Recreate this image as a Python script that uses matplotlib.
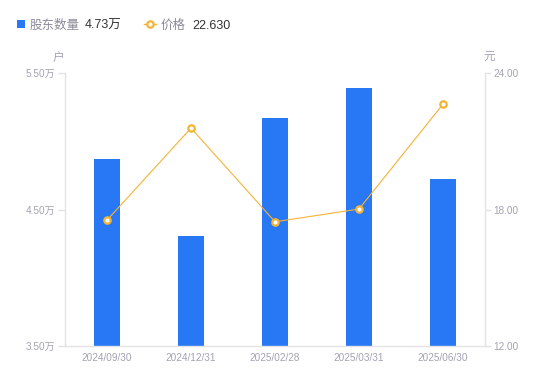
import matplotlib
matplotlib.use("Agg")
import matplotlib.pyplot as plt
from matplotlib.lines import Line2D
from matplotlib.patches import Rectangle

plt.rcParams['font.family'] = ['Liberation Sans', 'Noto Sans CJK SC', 'DejaVu Sans']

categories = ["2024/09/30", "2024/12/31", "2025/02/28", "2025/03/31", "2025/06/30"]
holders = [4.872, 4.306, 5.173, 5.390, 4.726]   # 万户
prices = [17.53, 21.58, 17.46, 18.02, 22.63]     # 元
left_ticks = [3.5, 4.5, 5.5]
left_labels = ["3.50万", "4.50万", "5.50万"]
right_ticks = [12, 18, 24]
right_labels = ["12.00", "18.00", "24.00"]

BLUE = "#2878F5"
ORANGE = "#F5B335"
GREY_TXT = "#A3A3B3"
AXIS = "#E3E3E6"

fig = plt.figure(figsize=(5.5, 3.81), dpi=100)
ax = fig.add_axes([65/550, 35/381, 420/550, 273/381])
x = list(range(len(categories)))
ax.bar(x, [h - 3.5 for h in holders], bottom=3.5, width=0.3, color=BLUE, zorder=2)
ax.set_xlim(-0.5, 4.5)
ax.set_ylim(3.5, 5.5)
ax.set_yticks(left_ticks)
ax.set_yticklabels(left_labels)
ax.set_xticks(x)
ax.set_xticklabels(categories)

ax2 = ax.twinx()
ax2.plot(x, prices, color=ORANGE, lw=0.8, marker='o', ms=4.6, mfc='white',
         mec=ORANGE, mew=1.6, zorder=3)
ax2.set_ylim(12, 24)
ax2.set_yticks(right_ticks)
ax2.set_yticklabels(right_labels)

for a in (ax, ax2):
    for s in a.spines.values():
        s.set_color(AXIS)
        s.set_linewidth(1)
    a.spines['top'].set_visible(False)
ax.spines['right'].set_visible(False)
ax2.spines['left'].set_visible(False)
ax2.spines['bottom'].set_visible(False)

ax.tick_params(axis='y', colors=AXIS, labelcolor=GREY_TXT, labelsize=7.2, length=5, width=1, pad=2)
ax.tick_params(axis='x', length=0, labelcolor=GREY_TXT, labelsize=7.2, pad=5)
ax2.tick_params(axis='y', colors=AXIS, labelcolor=GREY_TXT, labelsize=7.2, length=4, width=1, pad=2)

fig.text(58/550, 1 - 58/381, "户", color=GREY_TXT, fontsize=8.4, ha='center', va='center')
fig.text(489/550, 1 - 58/381, "元", color=GREY_TXT, fontsize=8.4, ha='center', va='center')

# legend
ly = 1 - 24/381
ty = 1 - 26/381
fig.add_artist(Rectangle((17/550, 1 - 28/381), 8/550, 8/381, transform=fig.transFigure,
                         color=BLUE, lw=0))
fig.text(30/550, ty, "股东数量", color="#8A8A99", fontsize=9, va='center', ha='left')
fig.text(85/550, ty, "4.73万", color="#333333", fontsize=9, va='center', ha='left')
fig.add_artist(Line2D([144/550, 156/550], [ly, ly], transform=fig.transFigure, color=ORANGE, lw=1))
fig.add_artist(Line2D([150/550], [ly], transform=fig.transFigure, marker='o', ms=4.6, mfc='white',
                      mec=ORANGE, mew=1.6))
fig.text(161/550, ty, "价格", color="#8A8A99", fontsize=9, va='center', ha='left')
fig.text(192/550, ty, "22.630", color="#333333", fontsize=9, va='center', ha='left')

fig.savefig("out.png", dpi=100)
